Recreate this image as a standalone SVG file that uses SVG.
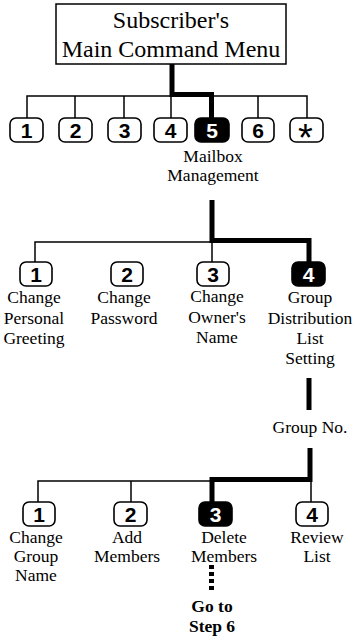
<svg xmlns="http://www.w3.org/2000/svg" width="360" height="639" viewBox="0 0 360 639">
<style>
.lbl{font-family:"Liberation Serif","Times New Roman",serif;font-size:17.5px;fill:#000;text-anchor:middle}
.ttl{font-family:"Liberation Serif","Times New Roman",serif;font-size:24px;fill:#000;text-anchor:middle}
.bold{font-family:"Liberation Serif","Times New Roman",serif;font-size:17.5px;font-weight:bold;fill:#000;text-anchor:middle}
.key{fill:#fff;stroke:#000;stroke-width:1.6}
.keyon{fill:#000;stroke:#000;stroke-width:1.6}
.dig{font-family:"Liberation Sans",Arial,sans-serif;font-size:21px;font-weight:bold;fill:#000;text-anchor:middle}
.digon{font-family:"Liberation Sans",Arial,sans-serif;font-size:21px;font-weight:bold;fill:#fff;text-anchor:middle}
.star{font-family:"Liberation Sans",Arial,sans-serif;font-size:38px;fill:#000;text-anchor:middle}
.thin{fill:none;stroke:#000;stroke-width:1.5}
.thick{fill:none;stroke:#000;stroke-width:5}
</style>
<rect width="360" height="639" fill="#fff"/>
<g id="connectors">
<path class="thin" d="M27 118V96H307V118M75 96V118M124 96V118M171 96V118M258 96V118"/>
<path class="thick" d="M172 64V94.5H211.5V118"/>
<path class="thick" d="M212 200V240.5H309V262"/>
<path class="thin" d="M35 262V242H212V262"/>
<path class="thick" d="M309 378V410"/>
<path class="thick" d="M310 448V479.5H212V502"/>
<path class="thin" d="M38 502V481H311V502M131 481V502"/>
<path d="M211.5 565V593" fill="none" stroke="#000" stroke-width="5" stroke-dasharray="4 3"/>
</g>
<g id="title">
<rect x="56" y="4" width="230" height="60" fill="#fff" stroke="#000" stroke-width="1.5"/>
<text class="ttl" x="171" y="28">Subscriber's</text>
<text class="ttl" x="171" y="57">Main Command Menu</text>
</g>
<g id="k1"><rect class="key" x="10" y="118" width="33" height="24" rx="6"/><text class="dig" x="26.5" y="137.5">1</text></g>
<g id="k2"><rect class="key" x="59" y="118" width="33" height="24" rx="6"/><text class="dig" x="75.5" y="137.5">2</text></g>
<g id="k3"><rect class="key" x="108" y="118" width="33" height="24" rx="6"/><text class="dig" x="124.5" y="137.5">3</text></g>
<g id="k4"><rect class="key" x="154" y="118" width="33" height="24" rx="6"/><text class="dig" x="170.5" y="137.5">4</text></g>
<g id="k5"><rect class="keyon" x="195" y="118" width="34" height="24" rx="6"/><text class="digon" x="212" y="137.5">5</text>
<text class="lbl" x="213" y="162">Mailbox</text><text class="lbl" x="213" y="181">Management</text></g>
<g id="k6"><rect class="key" x="242" y="118" width="32" height="24" rx="6"/><text class="dig" x="258" y="137.5">6</text></g>
<g id="kstar"><rect class="key" x="290" y="118" width="33" height="24" rx="6"/><text class="star" x="305.5" y="151">*</text></g>
<g id="m1"><rect class="key" x="20" y="262" width="32" height="24" rx="6"/><text class="dig" x="36" y="281.5">1</text>
<text class="lbl" x="34" y="303">Change</text><text class="lbl" x="34" y="323.5">Personal</text><text class="lbl" x="34" y="344">Greeting</text></g>
<g id="m2"><rect class="key" x="111" y="262" width="32" height="24" rx="6"/><text class="dig" x="127" y="281.5">2</text>
<text class="lbl" x="124" y="303">Change</text><text class="lbl" x="124" y="323.5">Password</text></g>
<g id="m3"><rect class="key" x="197" y="262" width="32" height="24" rx="6"/><text class="dig" x="213" y="281.5">3</text>
<text class="lbl" x="217" y="302">Change</text><text class="lbl" x="217" y="322.5">Owner's</text><text class="lbl" x="217" y="343">Name</text></g>
<g id="m4"><rect class="keyon" x="292" y="262" width="33" height="24" rx="6"/><text class="digon" x="308.5" y="281.5">4</text>
<text class="lbl" x="310" y="303">Group</text><text class="lbl" x="310" y="323.5">Distribution</text><text class="lbl" x="310" y="344">List</text><text class="lbl" x="310" y="364">Setting</text></g>
<g id="groupno"><text class="lbl" x="310" y="433">Group No.</text></g>
<g id="g1"><rect class="key" x="23" y="502" width="32" height="24" rx="6"/><text class="dig" x="39" y="521.5">1</text>
<text class="lbl" x="36" y="543">Change</text><text class="lbl" x="36" y="562">Group</text><text class="lbl" x="36" y="581">Name</text></g>
<g id="g2"><rect class="key" x="114" y="502" width="33" height="24" rx="6"/><text class="dig" x="130.5" y="521.5">2</text>
<text class="lbl" x="127" y="543">Add</text><text class="lbl" x="127" y="562">Members</text></g>
<g id="g3"><rect class="keyon" x="199" y="502" width="33" height="24" rx="6"/><text class="digon" x="215.5" y="521.5">3</text>
<text class="lbl" x="224" y="543">Delete</text><text class="lbl" x="224" y="562">Members</text></g>
<g id="g4"><rect class="key" x="296" y="502" width="32" height="24" rx="6"/><text class="dig" x="312" y="521.5">4</text>
<text class="lbl" x="317" y="543">Review</text><text class="lbl" x="317" y="562">List</text></g>
<g id="goto"><text class="bold" x="212" y="612">Go to</text><text class="bold" x="212" y="632">Step 6</text></g>
</svg>
